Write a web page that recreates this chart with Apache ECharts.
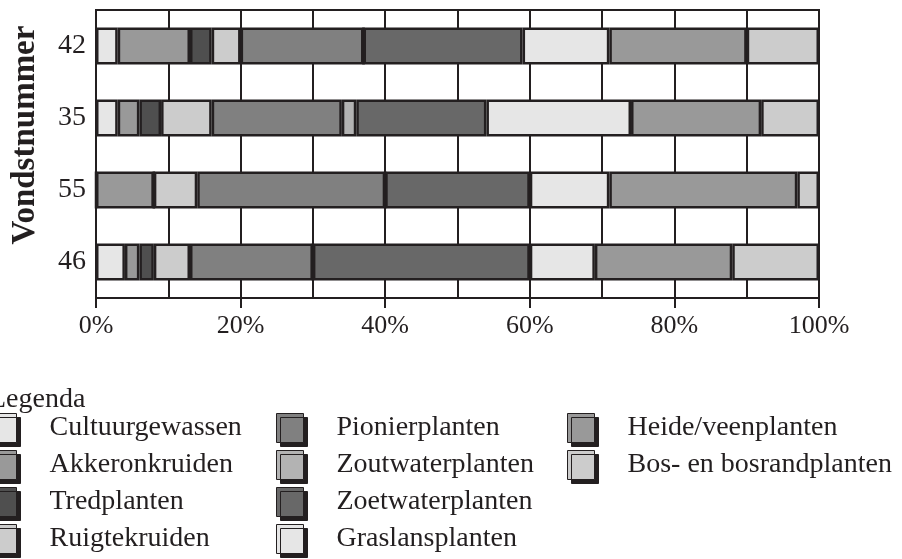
<!DOCTYPE html>
<html>
<head>
<meta charset="utf-8">
<script src="https://cdn.jsdelivr.net/npm/echarts@6/dist/echarts.min.js"></script>
<style>
html, body { margin: 0; padding: 0; background: #fff; }
#main { width: 902px; height: 559px; }
</style>
</head>
<body>
<div id="main"></div>
<script>
var dom = document.getElementById("main");
var myChart = echarts.init(dom);
option = null;

var font = "'Liberation Serif', 'Times New Roman', serif";
var ink = '#231f20';

// vondstnummers, top to bottom
var vondsten = ['42', '35', '55', '46'];

// percentage per vondst (same order as vondsten)
var cultuurgewassen   = [3, 3, 0, 4];
var akkeronkruiden    = [10, 3, 8, 2];
var tredplanten       = [3, 3, 0, 2];
var ruigtekruiden     = [4, 7, 6, 5];
var pionierplanten    = [17, 18, 26, 17];
var zoutwaterplanten  = [0, 2, 0, 0];
var zoetwaterplanten  = [22, 18, 20, 30];
var graslansplanten   = [12, 20, 11, 9];
var heideveenplanten  = [19, 18, 26, 19];
var bosrandplanten    = [10, 8, 3, 12];

var groups = [
    {name: 'Cultuurgewassen', data: cultuurgewassen, color: '#e6e6e6'},
    {name: 'Akkeronkruiden', data: akkeronkruiden, color: '#999999'},
    {name: 'Tredplanten', data: tredplanten, color: '#4f4f4f'},
    {name: 'Ruigtekruiden', data: ruigtekruiden, color: '#cccccc'},
    {name: 'Pionierplanten', data: pionierplanten, color: '#808080'},
    {name: 'Zoutwaterplanten', data: zoutwaterplanten, color: '#b3b3b3'},
    {name: 'Zoetwaterplanten', data: zoetwaterplanten, color: '#686868'},
    {name: 'Graslansplanten', data: graslansplanten, color: '#e6e6e6'},
    {name: 'Heide/veenplanten', data: heideveenplanten, color: '#999999'},
    {name: 'Bos- en bosrandplanten', data: bosrandplanten, color: '#cccccc'}
];

var series = [];
for (var i = 0; i < groups.length; i++) {
    series.push({
        name: groups[i].name,
        type: 'bar',
        stack: 'totaal',
        barWidth: 37,
        data: groups[i].data,
        itemStyle: {
            color: groups[i].color,
            borderColor: ink,
            borderWidth: 2.5
        },
        emphasis: {disabled: true}
    });
}

function legendColumn(names, left) {
    return {
        orient: 'vertical',
        left: left,
        top: 413,
        padding: 0,
        itemWidth: 27,
        itemHeight: 29,
        itemGap: 7,
        selectedMode: false,
        data: names.map(function (n) { return {name: n, icon: 'rect'}; }),
        itemStyle: {
            borderColor: ink,
            borderWidth: 1,
            shadowColor: ink,
            shadowBlur: 0,
            shadowOffsetX: 4,
            shadowOffsetY: 4
        },
        textStyle: {
            fontFamily: font,
            fontSize: 28,
            color: ink,
            lineHeight: 29,
            padding: [0, 0, 0, 28]
        }
    };
}

option = {
    backgroundColor: '#fff',
    animation: false,
    grid: {
        left: 96,
        right: 83,
        top: 10,
        bottom: 261,
        show: true,
        borderColor: ink,
        borderWidth: 2
    },
    legend: [
        legendColumn(['Cultuurgewassen', 'Akkeronkruiden', 'Tredplanten', 'Ruigtekruiden'], -11),
        legendColumn(['Pionierplanten', 'Zoutwaterplanten', 'Zoetwaterplanten', 'Graslansplanten'], 276),
        legendColumn(['Heide/veenplanten', 'Bos- en bosrandplanten'], 567)
    ],
    xAxis: [
        {
            type: 'value',
            min: 0,
            max: 100,
            interval: 20,
            axisLine: {show: true, lineStyle: {color: ink, width: 2}},
            axisTick: {show: true, inside: false, length: 10, lineStyle: {color: ink, width: 2}},
            splitLine: {show: false},
            axisLabel: {
                margin: 15,
                fontFamily: font,
                fontSize: 26,
                color: ink,
                formatter: '{value}%'
            }
        },
        {
            type: 'value',
            min: 0,
            max: 100,
            interval: 10,
            position: 'bottom',
            axisLine: {show: false},
            axisTick: {show: false},
            axisLabel: {show: false},
            splitLine: {show: true, lineStyle: {color: ink, width: 2}}
        }
    ],
    yAxis: {
        type: 'category',
        inverse: true,
        data: vondsten,
        axisLine: {show: true, lineStyle: {color: ink, width: 2}},
        axisTick: {show: false},
        axisLabel: {
            margin: 10,
            fontFamily: font,
            fontSize: 28,
            color: ink
        }
    },
    graphic: [
        {
            type: 'text',
            x: 25,
            y: 135,
            rotation: Math.PI / 2,
            style: {
                text: 'Vondstnummer',
                font: 'bold 33px ' + font,
                fill: ink,
                textAlign: 'center',
                textVerticalAlign: 'middle'
            }
        },
        {
            type: 'text',
            x: -11,
            y: 400,
            style: {
                text: 'Legenda',
                font: '28px ' + font,
                fill: ink,
                textAlign: 'left',
                textVerticalAlign: 'middle'
            }
        }
    ],
    series: series
};

if (option && typeof option === "object") {
    myChart.setOption(option, true);
}
</script>
</body>
</html>
